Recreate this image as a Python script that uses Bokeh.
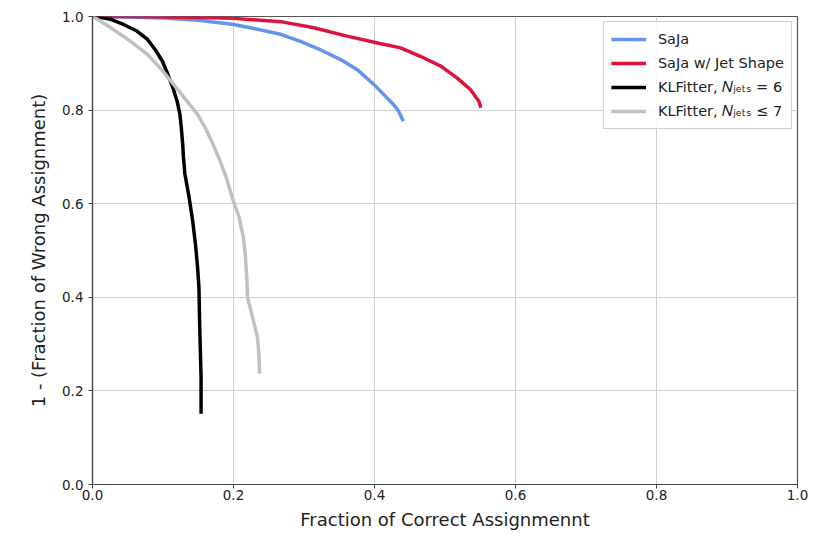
from bokeh.plotting import figure
from bokeh.models import Legend, LegendItem, Range1d, FixedTicker, PrintfTickFormatter
from bokeh.embed import file_html
from bokeh.resources import INLINE

saja_x = [0.0, 0.05, 0.10, 0.15, 0.20, 0.224, 0.267, 0.295, 0.323, 0.352, 0.375, 0.399,
          0.418, 0.427, 0.434, 0.441]
saja_y = [1.0, 0.999, 0.997, 0.992, 0.983, 0.976, 0.962, 0.947, 0.929, 0.908, 0.887, 0.855,
          0.826, 0.812, 0.798, 0.776]

shape_x = [0.0, 0.05, 0.10, 0.15, 0.20, 0.267, 0.314, 0.361, 0.406, 0.437, 0.465, 0.494,
           0.517, 0.536, 0.548, 0.551]
shape_y = [1.0, 1.0, 0.999, 0.998, 0.996, 0.989, 0.976, 0.958, 0.943, 0.933, 0.915, 0.894,
           0.869, 0.844, 0.819, 0.805]

kl6_x = [0.0, 0.004, 0.026, 0.044, 0.063, 0.078, 0.089, 0.099, 0.107, 0.114, 0.120, 0.124,
         0.126, 0.128, 0.129, 0.131, 0.137, 0.142, 0.146, 0.149, 0.151, 0.152, 0.153,
         0.154, 0.154]
kl6_y = [1.0, 1.0, 0.994, 0.983, 0.969, 0.951, 0.929, 0.905, 0.876, 0.848, 0.819, 0.791,
         0.762, 0.726, 0.700, 0.664, 0.614, 0.564, 0.514, 0.465, 0.420, 0.343, 0.286,
         0.229, 0.151]

kl7_x = [0.0, 0.004, 0.026, 0.054, 0.078, 0.096, 0.115, 0.134, 0.149, 0.160, 0.170, 0.180,
         0.190, 0.198, 0.208, 0.214, 0.217, 0.219, 0.220, 0.227, 0.234, 0.236, 0.237]
kl7_y = [1.0, 0.997, 0.976, 0.947, 0.919, 0.890, 0.855, 0.819, 0.791, 0.762, 0.730, 0.695,
         0.655, 0.614, 0.571, 0.528, 0.486, 0.436, 0.400, 0.357, 0.315, 0.279, 0.237]

labels = ["SaJa", "SaJa w/ Jet Shape", "KLFitter, 𝑁ⱼₑₜₛ = 6", "KLFitter, 𝑁ⱼₑₜₛ ≤ 7"]
colors = ["#6495ED", "#DC143C", "#000000", "#C0C0C0"]
ticks = [0.0, 0.2, 0.4, 0.6, 0.8, 1.0]

FONT = "DejaVu Sans"

p = figure(frame_width=705, frame_height=468, output_backend="svg", toolbar_location=None,
           x_range=Range1d(0, 1), y_range=Range1d(0, 1),
           min_border_left=92, min_border_top=16, min_border_right=20, min_border_bottom=10)

renderers = []
for xs, ys, c in zip([saja_x, shape_x, kl6_x, kl7_x], [saja_y, shape_y, kl6_y, kl7_y], colors):
    r = p.line(xs, ys, line_color=c, line_width=3.5, line_join="round", line_cap="butt")
    renderers.append(r)

legend = Legend(items=[LegendItem(label=l, renderers=[r]) for l, r in zip(labels, renderers)],
                location="top_right")
legend.label_text_font = FONT
legend.label_text_font_size = "14.5px"
legend.label_text_color = "#222222"
legend.glyph_width = 35
legend.glyph_height = 20
legend.label_height = 20
legend.label_standoff = 12
legend.spacing = 4
legend.padding = 7
legend.margin = 5
legend.border_line_color = "#d0d0d0"
legend.border_line_alpha = 1.0
legend.background_fill_alpha = 0.85
p.add_layout(legend)

for ax in (p.xaxis, p.yaxis):
    ax.ticker = FixedTicker(ticks=ticks)
    ax.formatter = PrintfTickFormatter(format="%.1f")
    ax.minor_tick_line_color = None
    ax.major_label_text_font = FONT
    ax.major_label_text_font_size = "13.5px"
    ax.major_label_text_color = "#222222"
    ax.axis_label_text_font = FONT
    ax.axis_label_text_font_size = "18px"
    ax.axis_label_text_font_style = "normal"
    ax.axis_label_text_color = "#222222"
    ax.axis_line_color = "#444444"
    ax.axis_line_width = 1.2
    ax.major_tick_line_color = "#444444"
    ax.major_tick_out = 4
    ax.major_tick_in = 0

p.xaxis.axis_label = "Fraction of Correct Assignmennt"
p.yaxis.axis_label = "1 - (Fraction of Wrong Assignment)"
p.xaxis.major_label_standoff = 1
p.xaxis.axis_label_standoff = 6
p.yaxis.axis_label_standoff = 10

p.xgrid.grid_line_color = "#d0d0d0"
p.ygrid.grid_line_color = "#d0d0d0"
p.xgrid.ticker = FixedTicker(ticks=ticks)
p.ygrid.ticker = FixedTicker(ticks=ticks)
p.outline_line_color = "#555555"
p.outline_line_width = 1.2

open("out.html", "w").write(file_html(p, INLINE))
